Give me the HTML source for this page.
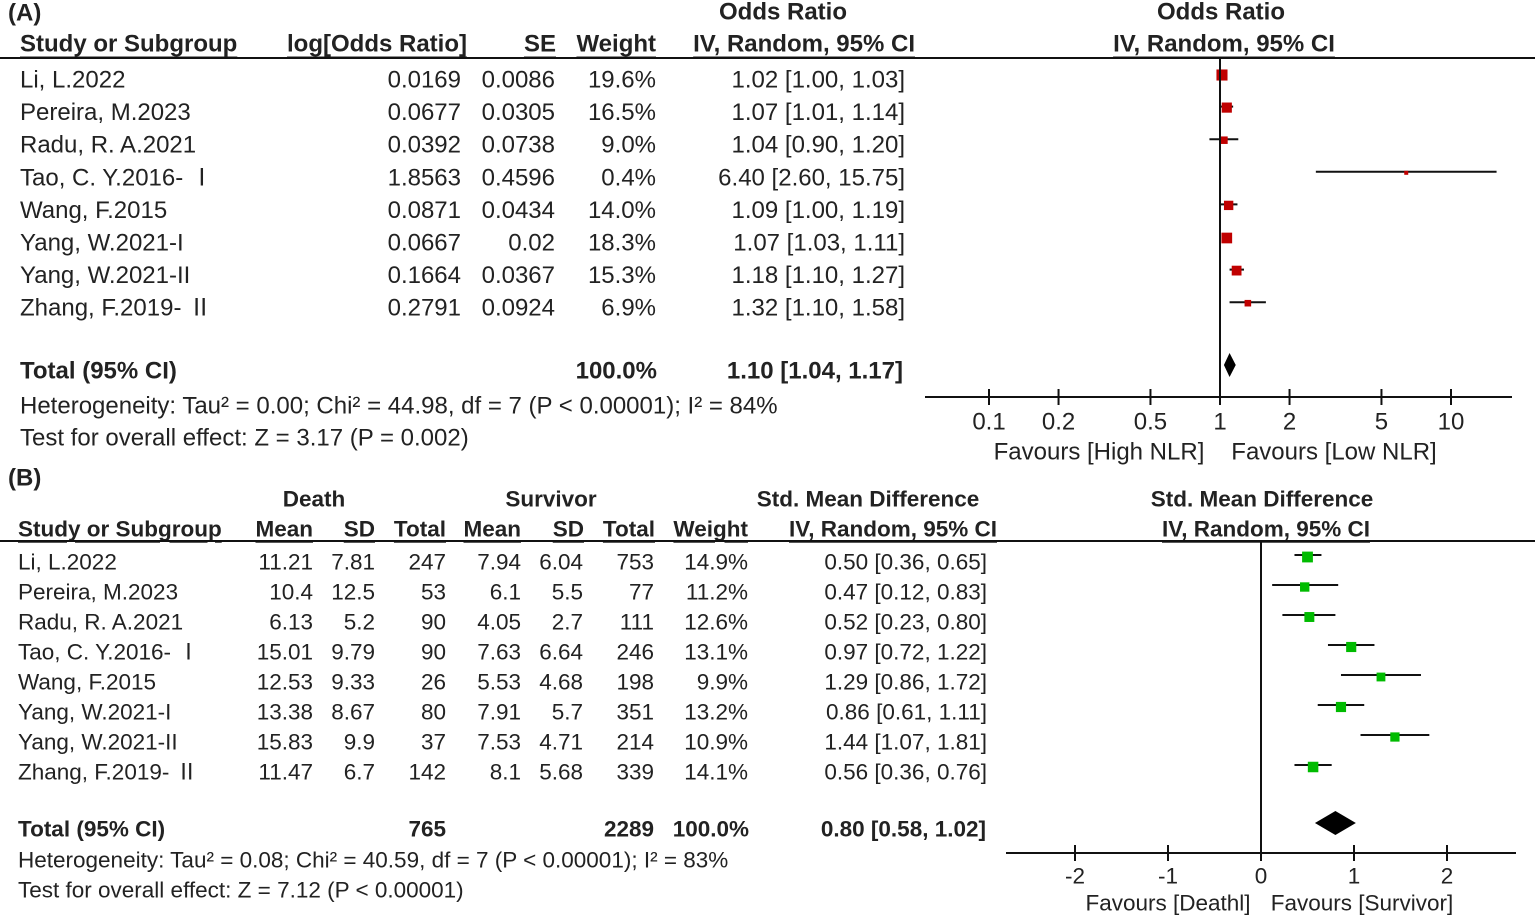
<!DOCTYPE html>
<html><head><meta charset="utf-8"><style>
html,body{margin:0;padding:0;background:#fff;}
svg{display:block;font-family:"Liberation Sans","Noto Sans CJK SC",sans-serif;fill:#222;}
.b{font-weight:bold;}
</style></head><body>
<svg id="s" width="1535" height="917" viewBox="0 0 1535 917" xmlns="http://www.w3.org/2000/svg"></svg>
<script>
// Panel A data
const studiesA = ["Li, L.2022","Pereira, M.2023","Radu, R. A.2021","Tao, C. Y.2016- Ⅰ","Wang, F.2015","Yang, W.2021-I","Yang, W.2021-II","Zhang, F.2019- Ⅱ"];
const logOR = ["0.0169","0.0677","0.0392","1.8563","0.0871","0.0667","0.1664","0.2791"];
const seA = ["0.0086","0.0305","0.0738","0.4596","0.0434","0.02","0.0367","0.0924"];
const weightA = [19.6,16.5,9.0,0.4,14.0,18.3,15.3,6.9];
const orA = [1.02,1.07,1.04,6.40,1.09,1.07,1.18,1.32];
const loA = [1.00,1.01,0.90,2.60,1.00,1.03,1.10,1.10];
const hiA = [1.03,1.14,1.20,15.75,1.19,1.11,1.27,1.58];
const totalA = [1.10,1.04,1.17];
const ticksA = [0.1,0.2,0.5,1,2,5,10];
const tickLabelsA = ["0.1","0.2","0.5","1","2","5","10"];
// Panel B data
const studiesB = studiesA;
const meanD = ["11.21","10.4","6.13","15.01","12.53","13.38","15.83","11.47"];
const sdD = ["7.81","12.5","5.2","9.79","9.33","8.67","9.9","6.7"];
const nD = ["247","53","90","90","26","80","37","142"];
const meanS = ["7.94","6.1","4.05","7.63","5.53","7.91","7.53","8.1"];
const sdS = ["6.04","5.5","2.7","6.64","4.68","5.7","4.71","5.68"];
const nS = ["753","77","111","246","198","351","214","339"];
const weightB = [14.9,11.2,12.6,13.1,9.9,13.2,10.9,14.1];
const smd = [0.50,0.47,0.52,0.97,1.29,0.86,1.44,0.56];
const loB = [0.36,0.12,0.23,0.72,0.86,0.61,1.07,0.36];
const hiB = [0.65,0.83,0.80,1.22,1.72,1.11,1.81,0.76];
const totalB = [0.80,0.58,1.02];
const ticksB = [-2,-1,0,1,2];

const svg = document.getElementById('s');
const NS = "http://www.w3.org/2000/svg";
function mk(tag, at, name){const e=document.createElementNS(NS,tag);for(const k in at)e.setAttribute(k,at[k]);


svg.appendChild(e);return e;}
function tx(x,y,s,name,opt){opt=opt||{};const e=mk('text',{x:x,y:y,'font-size':opt.fs||24,'dominant-baseline':'central','text-anchor':opt.a||'start',class:opt.b?'b':''},name);
if(opt.u)e.setAttribute('text-decoration','underline');e.textContent=s;return e;}
function ln(x1,y1,x2,y2,name,w){return mk('line',{x1:x1,y1:y1,x2:x2,y2:y2,stroke:'#111','stroke-width':w||2},name);}
const f2=v=>v.toFixed(2);

// ===== Panel A =====
tx(8,13,"(A)","panel-a-label",{b:1});
tx(783,12,"Odds Ratio","table-a-or-title",{b:1,a:'middle'});
tx(1221,12,"Odds Ratio","plot-a-title",{b:1,a:'middle'});
const hA=44;
tx(20,hA,"Study or Subgroup","header-study",{b:1,u:1});
tx(467,hA,"log[Odds Ratio]","header-log-or",{b:1,u:1,a:'end'});
tx(556,hA,"SE","header-se",{b:1,u:1,a:'end'});
tx(656,hA,"Weight","header-weight",{b:1,u:1,a:'end'});
tx(915,hA,"IV, Random, 95% CI","header-ci",{b:1,u:1,a:'end'});
tx(1224,hA,"IV, Random, 95% CI","plot-a-subtitle",{b:1,u:1,a:'middle'});
ln(0,58,1535,58,"header-rule-a");
const rowA=i=>80+i*32.6;
const xA=v=>1220+231*Math.log10(v);
studiesA.forEach((s,i)=>{const y=rowA(i);
tx(20,y,s,"study-name-a");
tx(461,y,logOR[i],"log-or-value",{a:'end'});
tx(555,y,seA[i],"se-value",{a:'end'});
tx(656,y,weightA[i].toFixed(1)+"%","weight-value-a",{a:'end'});
tx(905,y,f2(orA[i])+" ["+f2(loA[i])+", "+f2(hiA[i])+"]","ci-value-a",{a:'end'});
ln(xA(loA[i]),y-6,xA(hiA[i]),y-6,"ci-line-a",2);
const sz=Math.max(4,Math.sqrt(weightA[i])*2.5);
mk('rect',{x:xA(orA[i])-sz/2,y:y-5-sz/2,width:sz,height:sz,fill:'#c00000'},"study-marker-a");
});
const tyA=371;
tx(20,tyA,"Total (95% CI)","total-label-a",{b:1});
tx(657,tyA,"100.0%","total-weight-a",{b:1,a:'end'});
tx(903,tyA,f2(totalA[0])+" ["+f2(totalA[1])+", "+f2(totalA[2])+"]","total-ci-a",{b:1,a:'end'});
tx(20,406,"Heterogeneity: Tau² = 0.00; Chi² = 44.98, df = 7 (P < 0.00001); I² = 84%","heterogeneity-a");
tx(20,438,"Test for overall effect: Z = 3.17 (P = 0.002)","overall-effect-a");
ln(1220,58,1220,397,"null-line-a");
mk('polygon',{points:`${xA(totalA[1])},365 ${xA(totalA[0])},353 ${xA(totalA[2])},365 ${xA(totalA[0])},377`,fill:'#000'},"total-diamond-a");
ln(925,397,1512,397,"x-axis-a");
ticksA.forEach((t,i)=>{ln(xA(t),389,xA(t),405,"x-tick-a");tx(xA(t),422,tickLabelsA[i],"x-tick-label-a",{a:'middle'});});
tx(1099,452,"Favours [High NLR]","favours-high-nlr",{a:'middle'});
tx(1334,452,"Favours [Low NLR]","favours-low-nlr",{a:'middle'});

// ===== Panel B =====
tx(8,478,"(B)","panel-b-label",{b:1});
const fb=22.5;
tx(314,499,"Death","group-death",{b:1,a:'middle',fs:fb});
tx(551,499,"Survivor","group-survivor",{b:1,a:'middle',fs:fb});
tx(868,499,"Std. Mean Difference","table-b-smd-title",{b:1,a:'middle',fs:fb});
tx(1262,499,"Std. Mean Difference","plot-b-title",{b:1,a:'middle',fs:fb});
const hB=529;
tx(18,hB,"Study or Subgroup","header-study-b",{b:1,u:1,fs:fb});
tx(313,hB,"Mean","header-mean-death",{b:1,u:1,a:'end',fs:fb});
tx(375,hB,"SD","header-sd-death",{b:1,u:1,a:'end',fs:fb});
tx(446,hB,"Total","header-total-death",{b:1,u:1,a:'end',fs:fb});
tx(521,hB,"Mean","header-mean-survivor",{b:1,u:1,a:'end',fs:fb});
tx(584,hB,"SD","header-sd-survivor",{b:1,u:1,a:'end',fs:fb});
tx(655,hB,"Total","header-total-survivor",{b:1,u:1,a:'end',fs:fb});
tx(748,hB,"Weight","header-weight-b",{b:1,u:1,a:'end',fs:fb});
tx(997,hB,"IV, Random, 95% CI","header-ci-b",{b:1,u:1,a:'end',fs:fb});
tx(1266,hB,"IV, Random, 95% CI","plot-b-subtitle",{b:1,u:1,a:'middle',fs:fb});
ln(0,541,1535,541,"header-rule-b");
const rowB=i=>562+i*30;
const xB=v=>1261+93*v;
studiesB.forEach((s,i)=>{const y=rowB(i);
tx(18,y,s,"study-name-b",{fs:fb});
tx(313,y,meanD[i],"mean-death",{a:'end',fs:fb});
tx(375,y,sdD[i],"sd-death",{a:'end',fs:fb});
tx(446,y,nD[i],"total-death",{a:'end',fs:fb});
tx(521,y,meanS[i],"mean-survivor",{a:'end',fs:fb});
tx(583,y,sdS[i],"sd-survivor",{a:'end',fs:fb});
tx(654,y,nS[i],"total-survivor",{a:'end',fs:fb});
tx(748,y,weightB[i].toFixed(1)+"%","weight-value-b",{a:'end',fs:fb});
tx(987,y,f2(smd[i])+" ["+f2(loB[i])+", "+f2(hiB[i])+"]","ci-value-b",{a:'end',fs:fb});
ln(xB(loB[i]),y-7,xB(hiB[i]),y-7,"ci-line-b",2);
const sz=Math.sqrt(weightB[i])*2.8;
mk('rect',{x:xB(smd[i])-sz/2,y:y-5-sz/2,width:sz,height:sz,fill:'#00bb00'},"study-marker-b");
});
const tyB=829;
tx(18,tyB,"Total (95% CI)","total-label-b",{b:1,fs:fb});
tx(446,tyB,"765","total-n-death",{b:1,a:'end',fs:fb});
tx(654,tyB,"2289","total-n-survivor",{b:1,a:'end',fs:fb});
tx(749,tyB,"100.0%","total-weight-b",{b:1,a:'end',fs:fb});
tx(986,tyB,f2(totalB[0])+" ["+f2(totalB[1])+", "+f2(totalB[2])+"]","total-ci-b",{b:1,a:'end',fs:fb});
tx(18,860,"Heterogeneity: Tau² = 0.08; Chi² = 40.59, df = 7 (P < 0.00001); I² = 83%","heterogeneity-b",{fs:fb});
tx(18,890,"Test for overall effect: Z = 7.12 (P < 0.00001)","overall-effect-b",{fs:fb});
ln(1261,541,1261,853,"null-line-b");
mk('polygon',{points:`${xB(totalB[1])},823 ${xB(totalB[0])},811 ${xB(totalB[2])},823 ${xB(totalB[0])},835`,fill:'#000'},"total-diamond-b");
ln(1006,853,1516,853,"x-axis-b");
ticksB.forEach(t=>{ln(xB(t),845,xB(t),861,"x-tick-b");tx(xB(t),876,String(t),"x-tick-label-b",{a:'middle',fs:fb});});
tx(1168,903,"Favours [Deathl]","favours-death",{a:'middle',fs:fb});
tx(1362,903,"Favours [Survivor]","favours-survivor",{a:'middle',fs:fb});
</script>
</body></html>
